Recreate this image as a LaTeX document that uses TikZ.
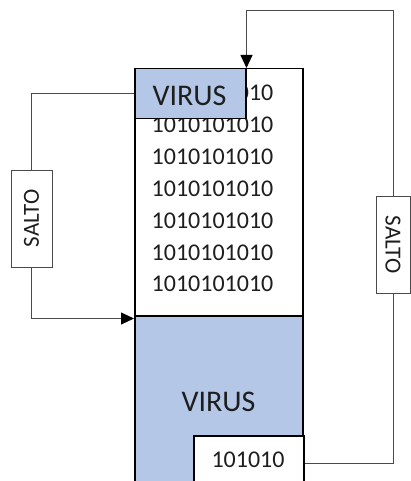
\documentclass[tikz,border=0pt]{standalone}
\usepackage{fontspec}
\usepackage{graphicx}
\setmainfont{Carlito}
\usetikzlibrary{arrows.meta,calc}
\definecolor{virblue}{HTML}{B4C7E7}
\definecolor{linegray}{HTML}{4A4A4A}
\definecolor{txt}{HTML}{1E1E1E}
\begin{document}
\begin{tikzpicture}[x=1pt,y=-1pt,
  blk/.style={draw=black,line width=1.5pt,inner sep=0pt,anchor=north west},
  saltobox/.style={draw=linegray,line width=0.8pt,fill=white,minimum width=41pt,minimum height=97pt,inner sep=0pt,font=\fontsize{23}{23}\selectfont,text=txt},
  conn/.style={draw=linegray,line width=0.9pt},
  tip/.style={-{Triangle[length=13pt,width=12pt,color=black]}},
  digits/.style={font=\fontsize{24}{24}\selectfont,text=txt,anchor=base,inner sep=0pt},
  bigtxt/.style={font=\fontsize{30}{30}\selectfont,text=txt,anchor=base,inner sep=0pt}]
\useasboundingbox (0,0) rectangle (410,481);
% memory block
\node[blk,fill=white,minimum width=168pt,minimum height=247pt] (code) at (134,68) {};
\node[blk,fill=virblue,minimum width=168pt,minimum height=180pt] (vbody) at (134,315) {};
\node[bigtxt] (vbodytxt) at (218.5,411) {VIRUS};
% binary rows
\foreach \i in {0,...,6} {
  \node[digits] (row\i) at (212.5,{101+31.8*\i}) {1010101010};
}
% virus header
\node[blk,fill=virblue,minimum width=111pt,minimum height=50pt] (vhead) at (134,68) {};
\node[bigtxt] (vheadtxt) at (189.5,106) {VIRUS};
% 101010 box
\node[blk,fill=white,minimum width=110pt,minimum height=56pt] (bin) at (193,435) {};
\node[digits] (bintxt) at (248,467) {101010};
% SALTO boxes
\node[saltobox] (ls) at (31.5,218.5) {\rotatebox{90}{SALTO}};
\node[saltobox,minimum width=34pt] (rs) at (393,244.5) {\rotatebox{-90}{SALTO}};
\coordinate (topc) at (393,10);
% connectors
\draw[conn] (vhead.west) -| (ls.north);
\draw[conn,tip] (ls.south) |- ($(code.south west)+(0,2)$);
\draw[conn] (bin.east) -| (rs.south);
\draw[conn,tip] (rs.north) -- (topc) -| (vhead.north east);
\end{tikzpicture}
\end{document}
